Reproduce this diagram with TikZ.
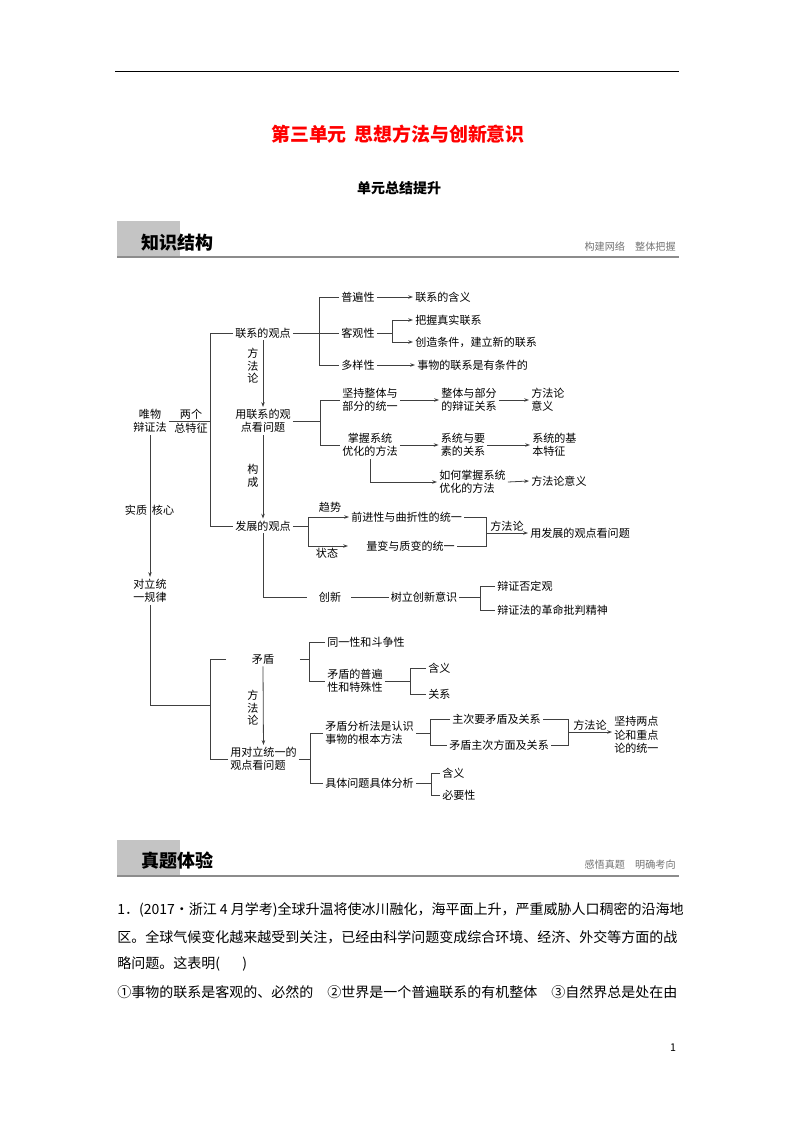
\documentclass[tikz,border=0pt]{standalone}
\usepackage{fontspec}
\setmainfont{Noto Sans CJK SC}
\usetikzlibrary{positioning, calc, arrows.meta}

\newcommand{\dgsize}{\fontsize{8.3}{10}\selectfont}
\newcommand{\vtsize}{\fontsize{8.3}{9.4}\selectfont}

\tikzset{
  txt/.style={font=\dgsize, inner sep=1.5pt, align=center},
  ltxt/.style={txt, anchor=west, align=left},
  vtxt/.style={font=\vtsize, inner sep=0pt, align=center},
  ln/.style={draw=black!75, line width=0.6pt},
  arr/.style={ln, -{Stealth[length=3.6pt, width=2.6pt]}},
  barbox/.style={fill=black!23, draw=none},
  barline/.style={draw=black!45, line width=1.6pt},
  bartitle/.style={anchor=west, inner sep=0pt, font=\bfseries\fontsize{13.5}{16}\selectfont},
  barnote/.style={anchor=east, inner sep=0pt, text=black!55, font=\fontsize{7.6}{9}\selectfont},
  qline/.style={anchor=west, inner sep=0pt, font=\fontsize{10.5}{12}\selectfont},
}

\begin{document}
\begin{tikzpicture}[x=0.75pt, y=-0.75pt]
    \useasboundingbox (0,0) rectangle (794,1123);

    % Page header and titles
    \draw[line width=0.75pt] (115,72) -- (679,72);
    \node[text=red, font=\bfseries\fontsize{14.2}{17}\selectfont] (title) at (398,134) {第三单元\hspace{0.4em}思想方法与创新意识};
    \node[font=\bfseries\fontsize{10.5}{12}\selectfont] (subtitle) at (399,188) {单元总结提升};

    % Section bar: knowledge structure
    \fill[barbox] (117,221) rectangle (180,257);
    \draw[barline] (117,257) -- (679,257);
    \node[bartitle] (zsjg) at (141,243) {知识结构};
    \node[barnote] (gjwl) at (676,247) {构建网络\quad 整体把握};

    % Root and its two features
    \node[txt] (wbz) at (150,421) {唯物\\辩证法};
    \node[txt] (lg) at (191,414) {两个};
    \node[txt] (zzt) at (191,428) {总特征};
    \coordinate (b1t) at (210,333);
    \coordinate (b1b) at (210,526);
    \node[txt] (lxgd) at (263,333) {联系的观点};
    \node[txt] (fzgd) at (263,526) {发展的观点};
    \draw[ln] (wbz.east) -- (wbz.east -| b1t);
    \draw[ln] (lxgd.west) -- (b1t) -- (b1b) -- (fzgd.west);

    % Connection view: three properties
    \coordinate (b2t) at (319,297);
    \coordinate (b2b) at (319,365);
    \node[txt] (pbx) at (358,297) {普遍性};
    \node[txt] (kgx) at (358,333) {客观性};
    \node[txt] (dyx) at (358,365) {多样性};
    \draw[ln] (lxgd.east) -- (kgx.west);
    \draw[ln] (pbx.west) -| (b2b) -- (dyx.west);

    \node[ltxt] (lxhy) at (413,297) {联系的含义};
    \draw[arr] (pbx.east) -- (lxhy.west);
    \coordinate (b3t) at (392,320);
    \coordinate (b3b) at (392,342);
    \node[ltxt] (bwzs) at (413,320) {把握真实联系};
    \node[ltxt] (czjl) at (413,342) {创造条件，建立新的联系};
    \draw[ln] (kgx.east) -- (kgx.east -| b3t);
    \draw[arr] (b3t) -- (bwzs.west);
    \draw[arr] (b3t) -- (b3b) -- (czjl.west);
    \node[ltxt] (swlx) at (415,365) {事物的联系是有条件的};
    \draw[arr] (dyx.east) -- (swlx.west);

    % Methodology: using the connection view
    \node[vtxt] (ffl1) at (253,366) {方\\法\\论};
    \node[txt] (ylx) at (263,421) {用联系的观\\点看问题};
    \draw[arr] (lxgd.south) -- (ylx.north);

    \coordinate (b4t) at (320,400);
    \coordinate (b4b) at (320,445);
    \node[txt] (jczt) at (370,400) {坚持整体与\\部分的统一};
    \node[txt] (zwxt) at (370,445) {掌握系统\\优化的方法};
    \draw[ln] (ylx.east) -- (ylx.east -| b4t);
    \draw[ln] (jczt.west) -| (b4b) -- (zwxt.west);

    \node[txt] (ztbf) at (469,400) {整体与部分\\的辩证关系};
    \node[ltxt] (ffly1) at (529,400) {方法论\\意义};
    \draw[arr] (jczt.east) -- (ztbf.west);
    \draw[arr] (ztbf.east) -- (ffly1.west);

    \node[txt] (xtys) at (463,445) {系统与要\\素的关系};
    \node[ltxt] (xtjb) at (530,445) {系统的基\\本特征};
    \draw[arr] (zwxt.east) -- (xtys.west);
    \draw[arr] (xtys.east) -- (xtjb.west);

    \node[ltxt] (rhzw) at (437,482) {如何掌握系统\\优化的方法};
    \node[ltxt] (fflyy) at (529,481) {方法论意义};
    \draw[arr] (zwxt.south) |- (rhzw.west);
    \draw[arr] (rhzw.east) -- (fflyy.west);

    % Constituting the development view
    \node[vtxt] (gc) at (253,476) {构\\成};
    \draw[arr] (ylx.south) -- (fzgd.north);

    \coordinate (b5t) at (308,517);
    \coordinate (b5b) at (308,546);
    \node[ltxt] (qjx) at (349,517) {前进性与曲折性的统一};
    \node[ltxt] (lbz) at (364,546) {量变与质变的统一};
    \draw[ln] (fzgd.east) -- (fzgd.east -| b5t);
    \draw[arr] (b5t) -- (qjx.west);
    \draw[arr, shorten >=12pt] (b5t) -- (b5b) -- (lbz.west);
    \node[txt] (qs) at (330,507) {趋势};
    \node[txt] (zt) at (327,553) {状态};

    \coordinate (b6b) at (486,546);
    \coordinate (b6m) at (486,533);
    \node[ltxt] (yfz) at (528,533) {用发展的观点看问题};
    \draw[ln] (qjx.east) -| (b6b) -- (lbz.east);
    \draw[arr] (b6m) -- (yfz.west) node[midway, above, txt, inner sep=1pt] (ffl3) {方法论};

    % Innovation
    \node[txt] (cx) at (330,597) {创新};
    \node[txt] (slcx) at (424,597) {树立创新意识};
    \draw[ln, shorten >=7pt] (fzgd.south) |- (cx.west);
    \draw[ln, shorten <=6pt] (cx.east) -- (slcx.west);

    \coordinate (b7t) at (480,586);
    \coordinate (b7b) at (480,610);
    \node[ltxt] (bzfd) at (495,586) {辩证否定观};
    \node[ltxt] (bzgm) at (495,610) {辩证法的革命批判精神};
    \draw[ln] (slcx.east) -- (slcx.east -| b7t);
    \draw[ln] (bzfd.west) -| (b7b) -- (bzgm.west);

    % Essence and core: law of unity of opposites
    \node[txt] (dltg) at (150,591) {对立统\\一规律};
    \draw[arr] (wbz.south) -- (dltg.north);
    \node[txt] (sz) at (136,510) {实质};
    \node[txt] (hx) at (163,510) {核心};

    % Contradiction
    \coordinate (b8m) at (210,705);
    \coordinate (b8b) at (210,759);
    \node[txt, minimum width=55pt] (md) at (263,659) {矛盾};
    \node[ltxt] (ydl) at (228,759) {用对立统一的\\观点看问题};
    \draw[ln] (dltg.south) |- (b8m);
    \draw[ln] (md.west) -| (b8b) -- (ydl.west);
    \node[vtxt] (ffl2) at (253,708) {方\\法\\论};
    \draw[arr] (md.south) -- (ydl.north);

    \coordinate (b9t) at (309,642);
    \coordinate (b9b) at (309,681);
    \node[ltxt] (tyx) at (325,642) {同一性和斗争性};
    \node[ltxt] (mdpb) at (325,681) {矛盾的普遍\\性和特殊性};
    \draw[ln] (md.east) -- (md.east -| b9t);
    \draw[ln] (tyx.west) -| (b9b) -- (mdpb.west);

    \coordinate (b10t) at (410,668);
    \coordinate (b10b) at (410,694);
    \node[ltxt] (hy1) at (426,668) {含义};
    \node[ltxt] (gx1) at (426,694) {关系};
    \draw[ln] (mdpb.east) -- (mdpb.east -| b10t);
    \draw[ln] (hy1.west) -| (b10b) -- (gx1.west);

    % Methodology: using the view of unity of opposites
    \coordinate (b11t) at (310,733);
    \coordinate (b11b) at (310,783);
    \node[ltxt] (mdfx) at (323,733) {矛盾分析法是认识\\事物的根本方法};
    \node[ltxt] (jtwt) at (323,783) {具体问题具体分析};
    \draw[ln] (ydl.east) -- (ydl.east -| b11t);
    \draw[ln] (mdfx.west) -| (b11b) -- (jtwt.west);

    \coordinate (b12t) at (430,719);
    \coordinate (b12b) at (430,745);
    \node[ltxt] (zcy) at (450,719) {主次要矛盾及关系};
    \node[ltxt] (mdzc) at (447,745) {矛盾主次方面及关系};
    \draw[ln] (mdfx.east) -- (mdfx.east -| b12t);
    \draw[ln] (zcy.west) -| (b12b) -- (mdzc.west);

    \coordinate (b13b) at (568,745);
    \coordinate (b13m) at (568,732);
    \node[ltxt] (jclz) at (612,735) {坚持两点\\论和重点\\论的统一};
    \draw[ln] (zcy.east) -| (b13b) -- (mdzc.east);
    \draw[arr] (b13m) -- (b13m -| jclz.west) node[midway, above, txt, inner sep=1pt] (ffl4) {方法论};

    \coordinate (b14t) at (431,773);
    \coordinate (b14b) at (431,795);
    \node[ltxt] (hy2) at (440,773) {含义};
    \node[ltxt] (byx) at (440,795) {必要性};
    \draw[ln] (jtwt.east) -- (jtwt.east -| b14t);
    \draw[ln] (hy2.west) -| (b14b) -- (byx.west);

    % Section bar: exam practice
    \fill[barbox] (117,840) rectangle (180,876);
    \draw[barline] (117,876) -- (679,876);
    \node[bartitle] (ztty) at (141,861) {真题体验};
    \node[barnote] (gwzt) at (676,865) {感悟真题\quad 明确考向};

    % Question text
    \node[qline] (q1) at (117,910) {1．(2017·浙江 4 月学考)全球升温将使冰川融化，海平面上升，严重威胁人口稠密的沿海地};
    \node[qline] (q2) at (117,937) {区。全球气候变化越来越受到关注，已经由科学问题变成综合环境、经济、外交等方面的战};
    \node[qline] (q3) at (117,964) {略问题。这表明(\hspace{1.6em})};
    \node[qline] (q4) at (117,992) {①事物的联系是客观的、必然的\quad②世界是一个普遍联系的有机整体\quad③自然界总是处在由};

    % Page number
    \node[font=\fontsize{8}{10}\selectfont] (pgno) at (673,1048) {1};

\end{tikzpicture}
\end{document}
